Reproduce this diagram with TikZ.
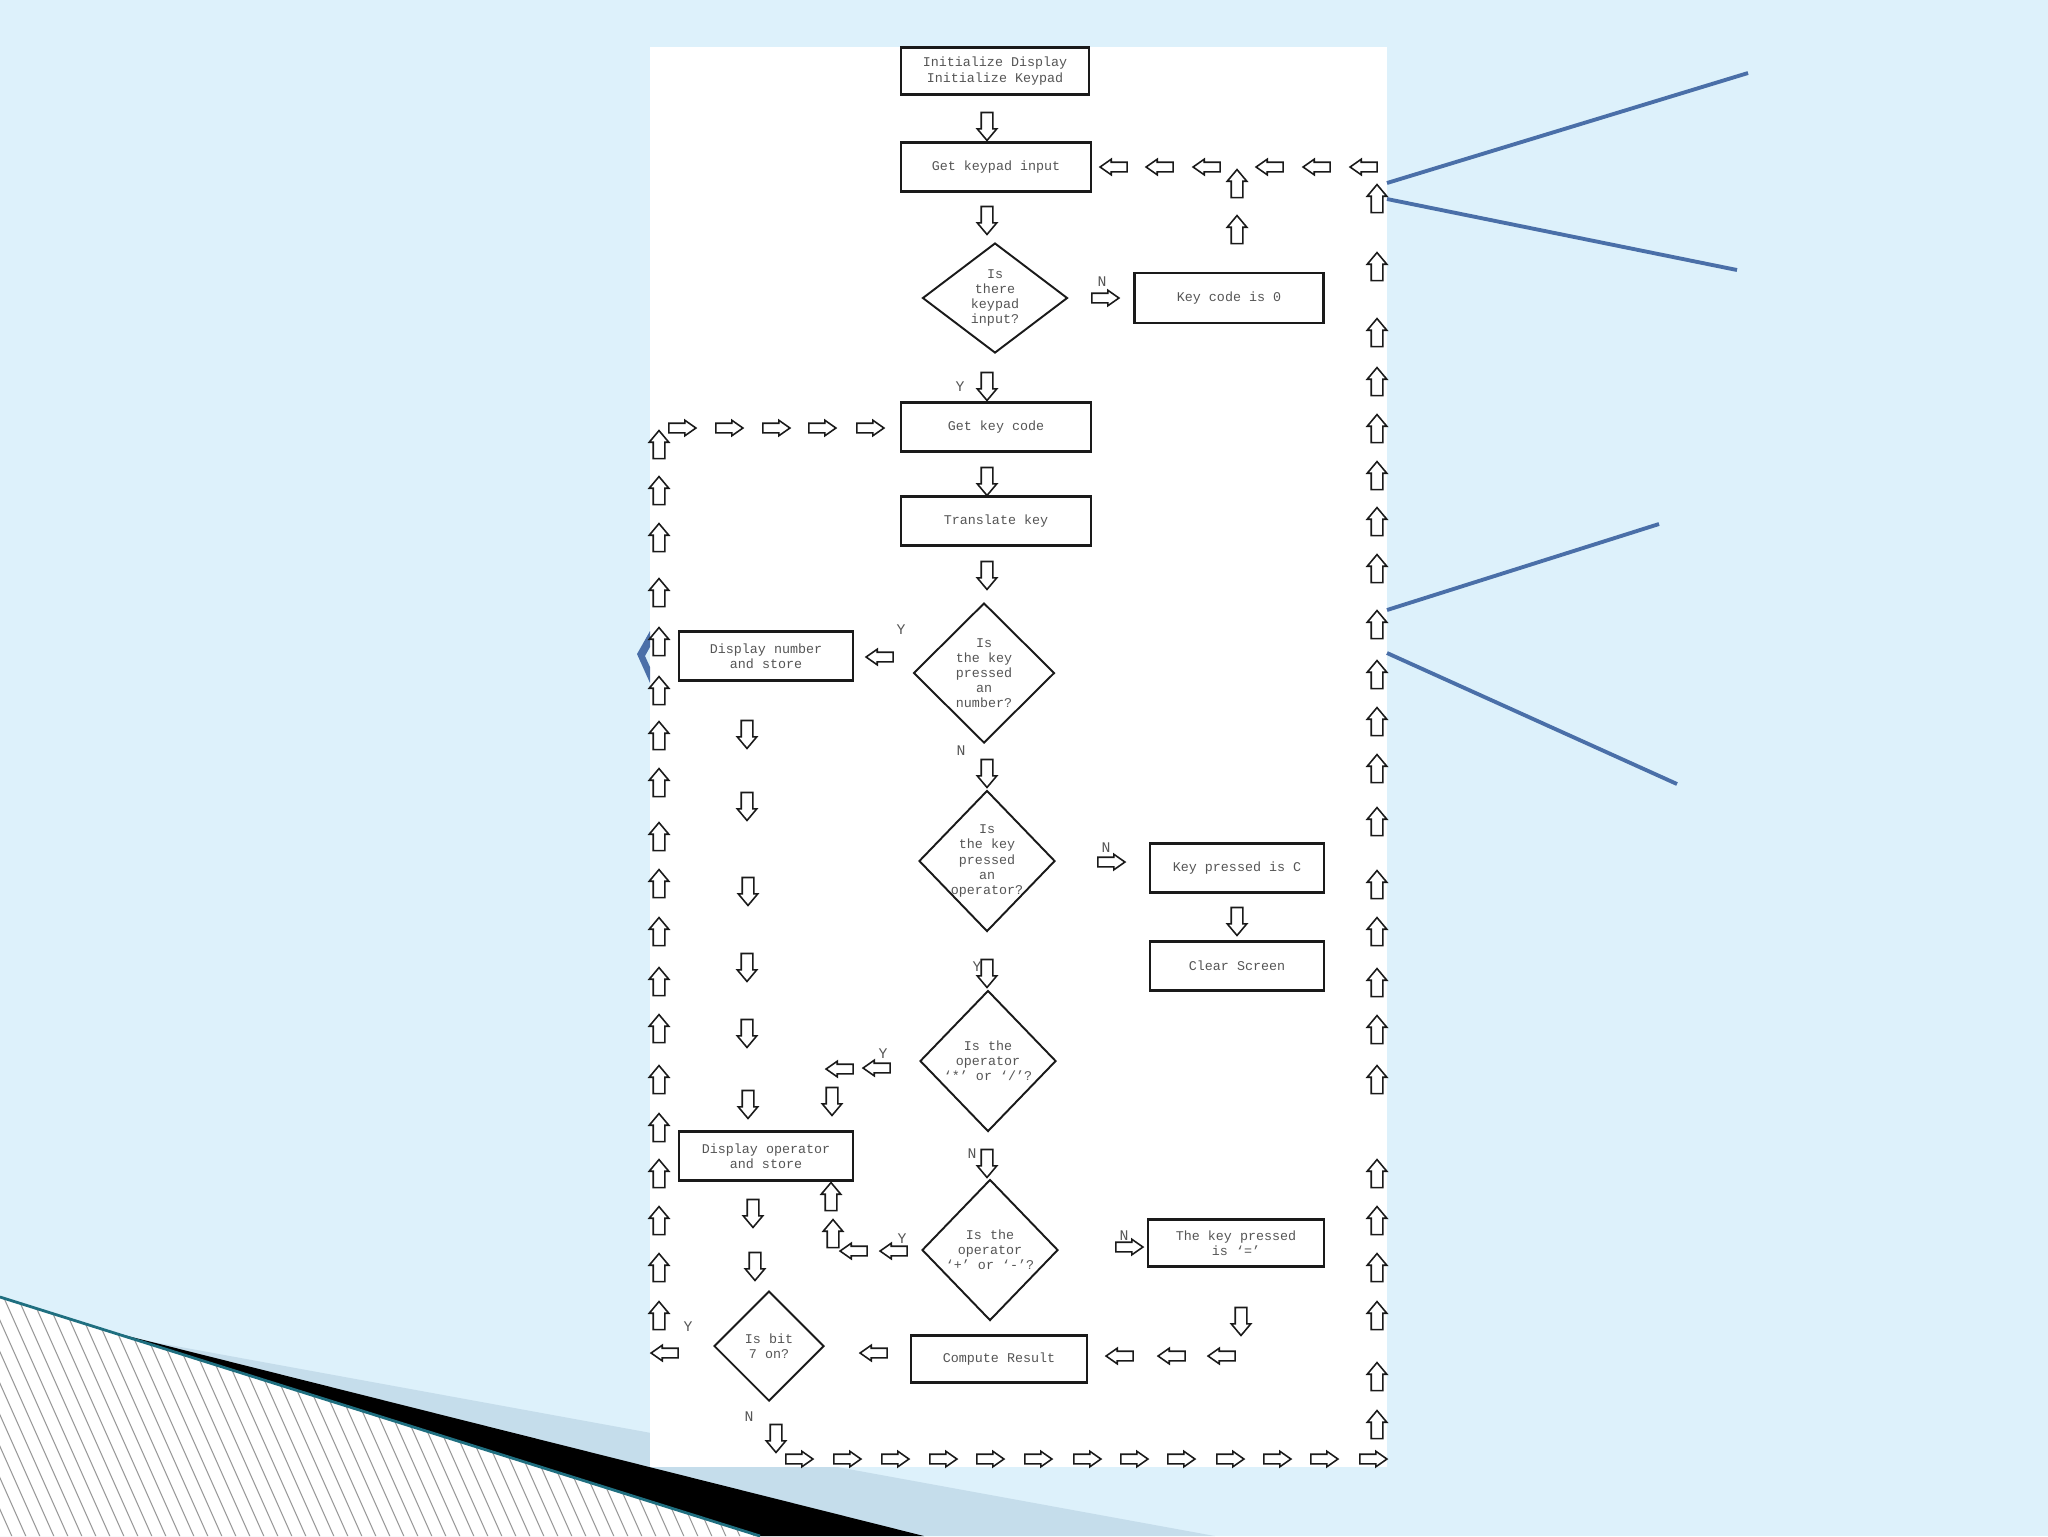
\documentclass[tikz,border=0pt]{standalone}
\usepackage{fontspec}
\usepackage{xcolor}
\usepackage{tikz}
\usetikzlibrary{positioning,shapes.geometric,shapes.arrows}
\newfontfamily\chartfont{Liberation Mono}
\definecolor{sky}{HTML}{DDF1FB}
\definecolor{haze}{HTML}{C5DDEB}
\definecolor{steel}{HTML}{4A6FA8}
\definecolor{rim}{HTML}{1F6F80}
\definecolor{ink}{HTML}{1A1A1A}
\definecolor{graytxt}{HTML}{555555}

\begin{document}
\begin{tikzpicture}[x=0.1mm,y=-0.1mm,
  box/.style={draw=ink,line width=0.7pt,fill=white,align=center,inner sep=0pt,minimum width=17.4mm,minimum height=4.9mm,text=graytxt,font=\chartfont\fontsize{3.8}{4.3}\selectfont},
  wbox/.style={box,minimum width=19mm},
  ask/.style={diamond,draw=ink,line width=0.55pt,fill=white,align=center,inner sep=-0.4mm,minimum width=13.6mm,minimum height=14.1mm,text=graytxt,font=\chartfont\fontsize{3.8}{4.3}\selectfont},
  yn/.style={text=graytxt,inner sep=0pt,font=\chartfont\fontsize{4.2}{4.2}\selectfont},
  blk/.style={single arrow,draw=ink,fill=white,line width=0.45pt,inner xsep=0pt},
  harr/.style={blk,inner ysep=0.4mm,single arrow head extend=0.3mm,single arrow tip angle=70,minimum height=2.7mm},
  varr/.style={blk,inner ysep=0.5mm,single arrow head extend=0.4mm,single arrow tip angle=80,minimum height=2.8mm},
  rarr/.style={harr},
  larr/.style={harr,rotate=180},
  uarr/.style={varr,rotate=90},
  darr/.style={varr,rotate=-90}
]
% slide background
\fill[sky] (0,0) rectangle (2048,1536);
\useasboundingbox (0,0) rectangle (2048,1536);
\fill[haze] (0,1314) -- (1215,1536) -- (0,1536) -- cycle;
\fill[white] (0,1297) -- (760,1536) -- (0,1536) -- cycle;
\begin{scope}
  \clip (0,1297) -- (760,1536) -- (0,1536) -- cycle;
  \foreach \h in {-130,-116,...,770} {\draw[gray!80,line width=0.3pt] (\h,1280) -- ++(120,270);}
\end{scope}
\fill[black] (104,1330) -- (924,1536) -- (760,1536) -- cycle;
\draw[rim,line width=0.8pt] (0,1297) -- (760,1536);

% chart sheet
\fill[white] (650,47) rectangle (1387,1467);
\draw[steel,line width=1.1pt] (1387,183) -- (1748,73);
\draw[steel,line width=1.1pt] (1387,199) -- (1737,270);
\draw[steel,line width=1.1pt] (1387,610) -- (1659,524);
\draw[steel,line width=1.1pt] (1387,653) -- (1677,784);
\fill[steel] (650,631) -- (637,654) -- (650,683) -- (650,667) -- (645,656) -- (650,647) -- cycle;

% steps
\node[box,minimum width=18.8mm,minimum height=4.7mm] (init) at (995,71) {Initialize Display\\Initialize Keypad};
\node[wbox] (getin) at (996,167) {Get keypad input};
\node[ask,minimum width=14.5mm,minimum height=11mm] (haskey) at (995,298) {Is\\there\\keypad\\input?};
\node[wbox,minimum width=18.9mm,minimum height=5mm] (zero) at (1229,298) {Key code is 0};
\node[wbox] (getcode) at (996,427) {Get key code};
\node[wbox] (xlate) at (996,521) {Translate key};
\node[ask,minimum width=14.1mm,minimum height=14mm] (isnum) at (984,673) {Is\\the key\\pressed\\an\\number?};
\node[box] (shownum) at (766,656) {Display number\\and store};
\node[ask] (isop) at (987,861) {Is\\the key\\pressed\\an\\operator?};
\node[box] (keyc) at (1237,868) {Key pressed is C};
\node[box] (clr) at (1237,966) {Clear Screen};
\node[ask] (muldiv) at (988,1061) {Is the\\operator\\‘*’ or ‘/’?};
\node[box] (showop) at (766,1156) {Display operator\\and store};
\node[ask] (addsub) at (990,1250) {Is the\\operator\\‘+’ or ‘-’?};
\node[box,minimum width=17.6mm,minimum height=4.7mm] (equal) at (1236,1243) {The key pressed\\is ‘=’};
\node[box,minimum width=17.6mm,minimum height=4.7mm] (calc) at (999,1359) {Compute Result};
\node[ask,minimum width=11mm,minimum height=11mm] (bitseven) at (769,1346) {Is bit\\7 on?};

% block arrows
\foreach \x/\y [count=\k] in {987/123,987/217,987/383,987/478,987/572,987/770,987/970,987/1160,1237/918,1241/1318,776/1435,832/1098,747/731,747/803,748/888,747/964,747/1030,748/1101,753/1210,755/1263}
  \node[darr] (dn\k) at (\x,\y) {};
\foreach \x/\y [count=\k] in {1237/187,1237/233,831/1200,833/1237}
  \node[uarr] (up\k) at (\x,\y) {};
\foreach \y [count=\k] in {202,270,336,385,432,479,525,572,628,678,725,772,825,888,935,986,1033,1083,1177,1224,1271,1319,1380,1428}
  \node[uarr] (ru\k) at (1377,\y) {};
\foreach \y [count=\k] in {448,494,541,596,645,694,739,786,840,887,935,985,1032,1083,1131,1177,1224,1271,1319}
  \node[uarr] (lu\k) at (659,\y) {};
\foreach \x/\y [count=\k] in {1117/167,1163/167,1210/167,1273/167,1320/167,1367/167,883/657,880/1068,843/1069,897/1251,857/1251,1123/1356,1175/1356,1225/1356,877/1353,668/1353}
  \node[larr] (lf\k) at (\x,\y) {};
\foreach \x/\y [count=\k] in {1102/298,1108/862,1126/1247,679/428,726/428,773/428,819/428,867/428}
  \node[rarr] (rt\k) at (\x,\y) {};
\foreach \x [count=\k] in {796,844,892,940,987,1035,1084,1131,1178,1227,1274,1321,1370}
  \node[rarr] (bt\k) at (\x,1459) {};

% branch letters
\foreach \x/\y/\t [count=\k] in {1102/282/N,960/387/Y,901/630/Y,961/751/N,1106/848/N,977/967/Y,883/1054/Y,972/1154/N,902/1239/Y,1124/1236/N,688/1327/Y,749/1417/N}
  \node[yn] (lb\k) at (\x,\y) {\t};
\end{tikzpicture}
\end{document}
